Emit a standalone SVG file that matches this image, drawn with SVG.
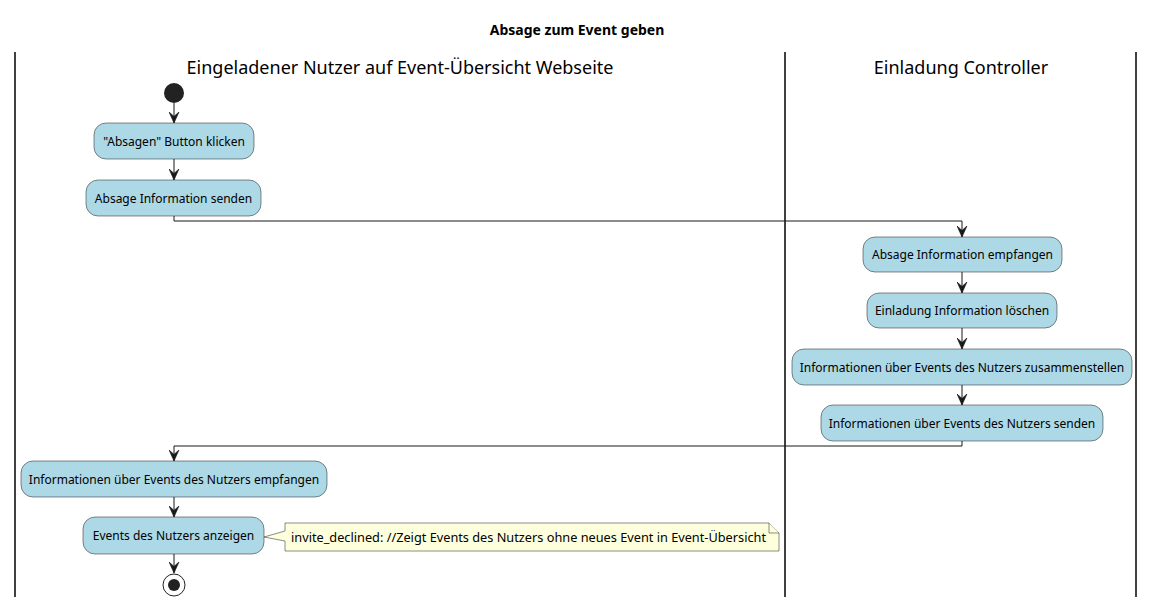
<svg xmlns="http://www.w3.org/2000/svg" width="1155" height="607" viewBox="0 0 1155 607">
<defs>
<style>
.lane{stroke:#000;stroke-width:1.5;fill:none}
.box{fill:#ADD8E6;stroke:#181818;stroke-width:0.5}
.t{font-family:"Noto Sans","DejaVu Sans",sans-serif;font-size:12px;fill:#000;text-anchor:middle}
.hdr{font-family:"Noto Sans","DejaVu Sans",sans-serif;font-size:18px;fill:#000;text-anchor:middle}
.ttl{font-family:"Noto Sans","DejaVu Sans",sans-serif;font-size:14px;font-weight:bold;fill:#000;text-anchor:middle}
.edge{stroke:#181818;stroke-width:1;fill:none}
.note{fill:#FEFFDD;stroke:#181818;stroke-width:0.5}
.nt{font-family:"Noto Sans","DejaVu Sans",sans-serif;font-size:12.8px;fill:#000}
</style>
<marker id="ah" viewBox="0 0 10 10" refX="10" refY="5" markerWidth="11" markerHeight="11" markerUnits="userSpaceOnUse" orient="auto">
<path d="M0,0.5 L10,5 L0,9.5 L4,5 Z" fill="#181818" stroke="#181818" stroke-width="0.6" stroke-linejoin="miter"/>
</marker>
</defs>
<rect width="1155" height="607" fill="#fff"/>
<text class="ttl" x="577" y="35">Absage zum Event geben</text>
<g id="lanes">
<line class="lane" x1="15" y1="52" x2="15" y2="597"/>
<line class="lane" x1="785" y1="52" x2="785" y2="597"/>
<line class="lane" x1="1136" y1="52" x2="1136" y2="597"/>
<text class="hdr" x="400" y="74">Eingeladener Nutzer auf Event-Übersicht Webseite</text>
<text class="hdr" x="961" y="74">Einladung Controller</text>
</g>
<g id="connectors">
<path class="edge" d="M174,103 V123" marker-end="url(#ah)"/>
<path class="edge" d="M174,159 V180" marker-end="url(#ah)"/>
<path class="edge" d="M174,216 V221 H962 V237" marker-end="url(#ah)"/>
<path class="edge" d="M962,272 V293" marker-end="url(#ah)"/>
<path class="edge" d="M962,328 V349" marker-end="url(#ah)"/>
<path class="edge" d="M962,385 V405" marker-end="url(#ah)"/>
<path class="edge" d="M962,441 V446 H174 V461" marker-end="url(#ah)"/>
<path class="edge" d="M174,497 V517" marker-end="url(#ah)"/>
<path class="edge" d="M174,554 V573" marker-end="url(#ah)"/>
</g>
<g id="start"><circle cx="174" cy="93" r="10" fill="#222"/></g>
<g id="n1"><rect class="box" x="94" y="123" width="160" height="36" rx="12"/><text class="t" x="174" y="145.5">"Absagen" Button klicken</text></g>
<g id="n2"><rect class="box" x="86" y="180" width="175" height="36" rx="12"/><text class="t" x="173.5" y="202.5">Absage Information senden</text></g>
<g id="n3"><rect class="box" x="863" y="237" width="199" height="35" rx="12"/><text class="t" x="962.5" y="259">Absage Information empfangen</text></g>
<g id="n4"><rect class="box" x="867" y="293" width="190" height="35" rx="12"/><text class="t" x="962" y="315">Einladung Information löschen</text></g>
<g id="n5"><rect class="box" x="792" y="349" width="340" height="36" rx="12"/><text class="t" x="962" y="371.5">Informationen über Events des Nutzers zusammenstellen</text></g>
<g id="n6"><rect class="box" x="821" y="405" width="282" height="36" rx="12"/><text class="t" x="962" y="427.5">Informationen über Events des Nutzers senden</text></g>
<g id="n7"><rect class="box" x="21" y="461" width="306" height="36" rx="12"/><text class="t" x="174" y="483.5">Informationen über Events des Nutzers empfangen</text></g>
<g id="n8"><rect class="box" x="83" y="517" width="181" height="37" rx="12"/><text class="t" x="173.5" y="540">Events des Nutzers anzeigen</text></g>
<g id="note">
<path class="note" d="M285,523 H769 L779,533 V551 H285 V541 L264,537 L285,531 Z"/>
<path class="note" d="M769,523 V533 H779"/>
<text class="nt" x="291" y="541.5" textLength="475" lengthAdjust="spacingAndGlyphs">invite_declined: //Zeigt Events des Nutzers ohne neues Event in Event-Übersicht</text>
</g>
<g id="end"><circle cx="174" cy="585" r="11" fill="none" stroke="#222" stroke-width="1"/><circle cx="174" cy="585" r="6" fill="#222"/></g>
</svg>
